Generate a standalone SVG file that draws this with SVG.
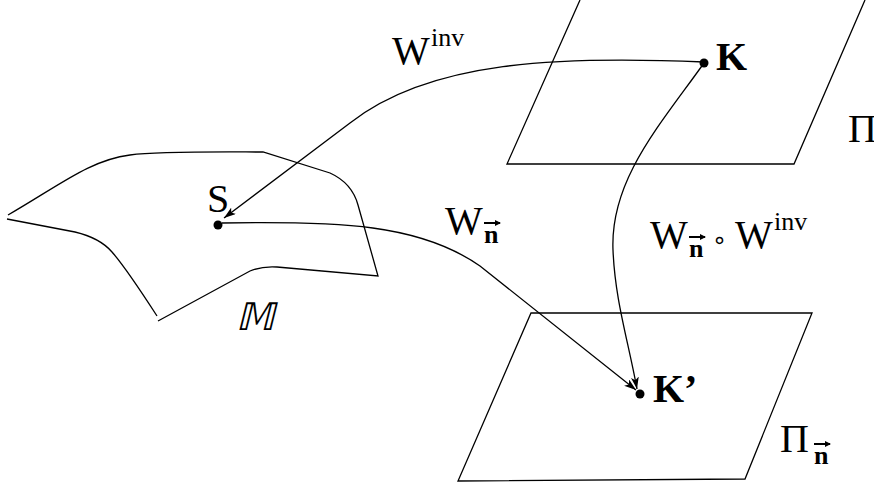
<svg xmlns="http://www.w3.org/2000/svg" width="874" height="489" viewBox="0 0 874 489">
<defs>
<style>
.ln{fill:none;stroke:#000;stroke-width:1.3}
.t{font-family:"Liberation Serif","Times New Roman",serif;font-size:40px;fill:#000}
.b{font-weight:bold}
.sup{font-family:"Liberation Serif","Times New Roman",serif;font-size:26px;fill:#000}
.sub{font-family:"Liberation Serif","Times New Roman",serif;font-size:26px;font-weight:bold;fill:#000}
.vec{fill:none;stroke:#000;stroke-width:2}
.dot{fill:#000}
</style>
<marker id="ah" viewBox="0 0 12 8" refX="12" refY="4" markerWidth="12" markerHeight="8" markerUnits="userSpaceOnUse" orient="auto">
<path d="M0 0 L12 4 L0 8 L3 4 Z" fill="#000"/>
</marker>
<marker id="vh" viewBox="0 0 6 6" refX="5" refY="3" markerWidth="6" markerHeight="6" markerUnits="userSpaceOnUse" orient="auto">
<path d="M0 0 L6 3 L0 6 Z" fill="#000"/>
</marker>
</defs>
<rect width="874" height="489" fill="#fff"/>
<g id="surface-M">
<path class="ln" d="M8 215 C60 185 90 160 130 155 C160 151 230 152 263 152 L330 173 Q352 183 358 205 L378 276 L277 267 Q262 266 250 271 L158 321"/>
<path class="ln" d="M7 219 L75 232 Q100 238 112 252 Q126 268 157 316"/>
<text x="238" y="330" transform="skewX(-14) translate(80 0)" style="font-family:'DejaVu Sans',sans-serif;font-size:38px;fill:#000">𝕄</text>
</g>
<g id="plane-Pi">
<path class="ln" d="M580 0 L507 164 L794 164 L865 0"/>
<text class="t" x="848" y="142">Π</text>
</g>
<g id="plane-Pi-n">
<path class="ln" d="M531 313 L812 313 L745 479 L458 481 Z"/>
<text class="t" x="780" y="452">Π</text>
<text class="sub" x="814" y="464">n</text>
<path class="vec" marker-end="url(#vh)" d="M814 444 L830 444"/>
</g>
<g id="node-S">
<circle class="dot" cx="218" cy="225" r="4.5"/>
<text class="t" x="207" y="212">S</text>
</g>
<g id="node-K">
<circle class="dot" cx="704" cy="63" r="4.5"/>
<text class="t b" x="716" y="70">K</text>
</g>
<g id="node-K-prime">
<circle class="dot" cx="640" cy="394" r="4.5"/>
<text class="t b" x="653" y="402">K’</text>
</g>
<g id="connectors">
<path class="ln" marker-end="url(#ah)" d="M704 62 C560 56 430 60 350 123 L224 218"/>
<path class="ln" marker-end="url(#ah)" d="M222 223 C340 221 420 224 480 266 L636 390"/>
<path class="ln" marker-end="url(#ah)" d="M704 63 C660 125 610 180 613 250 C615 300 628 340 637 389"/>
</g>
<g id="labels">
<text class="t" x="392" y="64">W</text>
<text class="sup" x="431" y="46">inv</text>
<text class="t" x="445" y="234">W</text>
<text class="sub" x="484" y="243">n</text>
<path class="vec" marker-end="url(#vh)" d="M484 223 L500 223"/>
<text class="t" x="650" y="248">W</text>
<text class="sub" x="689" y="257">n</text>
<path class="vec" marker-end="url(#vh)" d="M689 237 L705 237"/>
<text x="712" y="248" style="font-family:'DejaVu Sans',sans-serif;font-size:24px;fill:#000">∘</text>
<text class="t" x="735" y="248">W</text>
<text class="sup" x="774" y="230">inv</text>
</g>
</svg>
